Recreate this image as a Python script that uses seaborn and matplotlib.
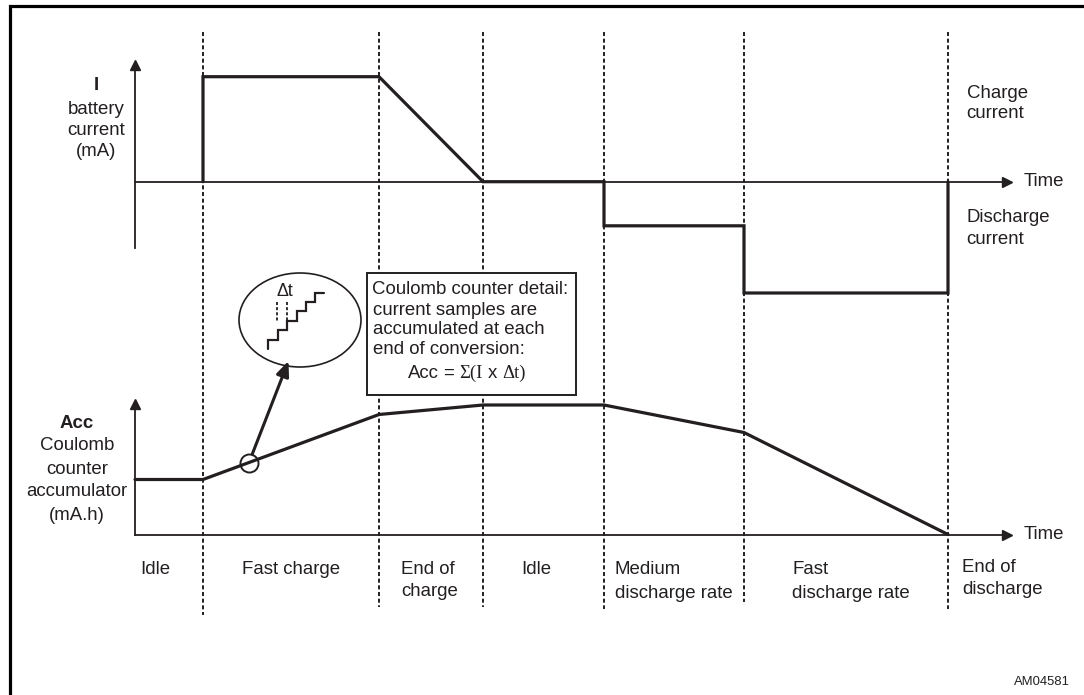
import numpy as np
import pandas as pd
import seaborn as sns
import matplotlib
matplotlib.use("Agg")
import matplotlib.pyplot as plt
from matplotlib.patches import Ellipse, Rectangle

# ---------------- data ----------------
phase_names = ["Idle", "Fast charge", "End of\ncharge", "Idle",
               "Medium\ndischarge rate", "Fast\ndischarge rate", "End of\ndischarge"]
phase_bounds = [6.8, 24.4, 34.8, 46.9, 60.9, 81.3]          # time (a.u.) of phase changes

current_t = [6.8, 6.8, 24.4, 34.8, 46.9, 46.9, 60.9, 60.9, 81.3, 81.3]
current_mA = [0, 500, 500, 0, 0, -210, -210, -530, -530, 0]

acc_t = [0.0, 6.8, 24.4, 34.8, 46.9, 60.9, 81.3]
acc_mAh = [110, 110, 240, 259, 259, 204, 0]

box_lines = ["Coulomb counter detail:", "current samples are",
             "accumulated at each", "end of conversion:"]
i_label = ["I", "battery", "current", "(mA)"]
acc_label = ["Acc", "Coulomb", "counter", "accumulator", "(mA.h)"]

# ---------------- style ----------------
sns.set_theme(style="white")
plt.rcParams["font.family"] = ["Liberation Sans", "DejaVu Sans"]
plt.rcParams["lines.scale_dashes"] = False
INK = "#231f20"
FS = 13.4

W, H = 1084, 695
fig = plt.figure(figsize=(W / 100, H / 100), dpi=100)
fig.patch.set_facecolor("white")


def rect(l, t, r, b):
    return [l / W, 1 - b / H, (r - l) / W, (b - t) / H]


AX_L, AX_R = 135.0, 1006.8
T_PER_PX = 0.1
xmax = (AX_R - AX_L) * T_PER_PX


def X(px):
    return (px - AX_L) * T_PER_PX


# overlay (pixel-like y, time-like x)
ov = fig.add_axes([0, 0, 1, 1], zorder=0)
ov.set_xlim(X(0), X(W))
ov.set_ylim(H, 0)
ov.axis("off")

# ---------------- current axes ----------------
I_ZERO_PX, I_PX_PER_MA = 181.7, 0.21
top_t, top_b = 65.2, 248.0
ax1 = fig.add_axes(rect(AX_L, top_t, AX_R, top_b), zorder=2)
ax1.set_xlim(0, xmax)
ax1.set_ylim(-(top_b - I_ZERO_PX) / I_PX_PER_MA, (I_ZERO_PX - top_t) / I_PX_PER_MA)
sns.lineplot(x=current_t, y=current_mA, sort=False, estimator=None, ax=ax1,
             color=INK, linewidth=2.3)

# ---------------- accumulator axes ----------------
A_ZERO_PX, A_PX_PER_U = 534.5, 0.5
bot_t = 404.2
ax2 = fig.add_axes(rect(AX_L, bot_t, AX_R, A_ZERO_PX), zorder=2)
ax2.set_xlim(0, xmax)
ax2.set_ylim(0, (A_ZERO_PX - bot_t) / A_PX_PER_U)
sns.lineplot(x=acc_t, y=acc_mAh, sort=False, estimator=None, ax=ax2,
             color=INK, linewidth=2.3)

for ax in (ax1, ax2):
    for ln in ax.lines:
        ln.set_solid_joinstyle("miter")
        ln.set_clip_on(False)
    ax.patch.set_alpha(0)
    ax.set_xticks([])
    ax.set_yticks([])
    ax.set_xlabel("")
    ax.set_ylabel("")
    for s in ("top", "right"):
        ax.spines[s].set_visible(False)
    for s in ("left", "bottom"):
        ax.spines[s].set_color(INK)
        ax.spines[s].set_linewidth(1.3)
    ax.plot(0, 1, "^", color=INK, ms=7.5, transform=ax.get_xaxis_transform(), clip_on=False)
    ax.plot(1, 0, ">", color=INK, ms=7.5, transform=ax.get_yaxis_transform(), clip_on=False)
ax1.spines["bottom"].set_position(("data", 0))

# ---------------- frame ----------------
ov.plot([X(10.5), X(10.5), X(W + 10)], [H + 10, 6.2, 6.2], color="black", lw=2.3,
        solid_joinstyle="miter", clip_on=False)

# ---------------- dashed phase separators ----------------
dash_bottoms = [615, 607, 607, 609, 602, 609]
ov.vlines(phase_bounds, 32, dash_bottoms, colors=INK, linewidth=1.4,
          linestyles=[(0, (2.9, 1.9))], zorder=2)

# ---------------- coulomb counter detail box ----------------
ov.add_patch(Rectangle((X(366.5), 273), (576 - 366.5) * T_PER_PX, 122,
                       facecolor="white", edgecolor=INK, lw=1.4, zorder=5))
box_y = [290, 310.5, 330, 349]
box_x = [371.5, 373.3, 373.3, 373.3]
for txt, bx, by in zip(box_lines, box_x, box_y):
    ov.text(X(bx), by, txt, fontsize=FS, color=INK, va="center", ha="left", zorder=6)

renderer = fig.canvas.get_renderer()
pieces = [("Acc", "Liberation Sans", 0.8), ("=", "Liberation Sans", 1.0),
          ("Σ(I", "Liberation Serif", 1.0), ("x", "Liberation Sans", 1.0),
          ("Δt)", "Liberation Serif", 0.0)]
space_px = 0.278 * FS * 100 / 72
cur = 408.0
for txt, fam, gap in pieces:
    t = ov.text(X(cur), 373, txt, fontsize=FS, color=INK, va="center", ha="left",
                family=[fam, "DejaVu Sans"], zorder=6)
    wpx = t.get_window_extent(renderer=renderer).width
    cur += wpx + gap * space_px

# ---------------- magnifier ellipse ----------------
ov.add_patch(Ellipse((X(300), 320), 122 * T_PER_PX, 94, facecolor="none",
                     edgecolor=INK, lw=1.2, zorder=4))
sx = [268, 277.5, 287, 296.5, 306, 315, 324]
sy = [349, 339.5, 330, 320.5, 311, 301.5, 292.5]
px_, py_ = [sx[0]], [sy[0]]
for i in range(1, len(sx)):
    px_ += [sx[i - 1], sx[i]]
    py_ += [sy[i], sy[i]]
ov.plot([X(v) for v in px_], py_, color=INK, lw=1.6, solid_joinstyle="miter", zorder=4)
ov.vlines([X(277.0), X(286.5)], 302, 322, colors=INK, lw=1.3,
          linestyles=[(0, (2.2, 1.5))], zorder=4)
ov.text(X(285), 291.5, "Δt", fontsize=FS - 0.5, color=INK, ha="center", va="center", zorder=4)

# small circle on the accumulator line + arrow to the magnifier
t_c = X(249)
acc_c = np.interp(t_c, acc_t, acc_mAh)
cx, cy = ov.transData.inverted().transform(ax2.transData.transform((t_c, acc_c)))
ov.plot(cx, cy, "o", ms=13, mfc="none", mec=INK, mew=1.4, zorder=4)
ov.annotate("", xy=(X(288.5), 361), xytext=(cx, cy),
            arrowprops=dict(arrowstyle="-|>,head_length=0.75,head_width=0.32",
                            color=INK, lw=2.2, shrinkA=6.5, shrinkB=0), zorder=4)

# ---------------- axis labels ----------------
for txt, y in zip(i_label, [85, 109, 130.5, 152]):
    ov.text(X(96), y, txt, fontsize=FS, color=INK, ha="center", va="center",
            fontweight="bold" if txt == "I" else "normal")
for txt, y in zip(acc_label, [423, 446, 469, 492, 515]):
    ov.text(X(77), y, txt, fontsize=FS, color=INK, ha="center", va="center",
            fontweight="bold" if txt == "Acc" else "normal")

ov.text(X(1024), I_ZERO_PX, "Time", fontsize=FS, color=INK, va="center")
ov.text(X(1024), A_ZERO_PX, "Time", fontsize=FS, color=INK, va="center")
ov.text(X(966.5), 93, "Charge", fontsize=FS, color=INK, va="center")
ov.text(X(966.5), 114, "current", fontsize=FS, color=INK, va="center")
ov.text(X(966), 217, "Discharge", fontsize=FS, color=INK, va="center")
ov.text(X(966), 239, "current", fontsize=FS, color=INK, va="center")

# ---------------- phase labels ----------------
label_x = [140, 242, 401, 521.5, 615, 792, 962]
label_y = [(569, 591), (569, 591), (569, 591), (569, 591),
           (570, 593), (570, 593), (567, 590)]
for name, lx, ly in zip(phase_names, label_x, label_y):
    for j, line in enumerate(name.split("\n")):
        ov.text(X(lx), ly[j], line, fontsize=FS, color=INK, ha="left", va="center")

ov.text(X(1070), 682, "AM04581", fontsize=9.4, color=INK, ha="right", va="center")

fig.savefig("out.png", dpi=100, facecolor="white")
